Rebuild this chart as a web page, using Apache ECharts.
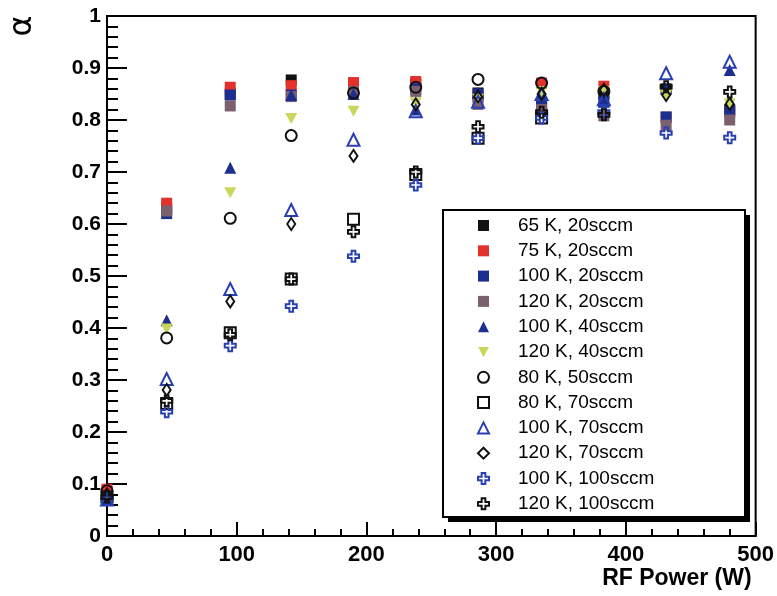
<!DOCTYPE html>
<html>
<head>
<meta charset="utf-8">
<script src="https://cdn.jsdelivr.net/npm/echarts@6/dist/echarts.min.js"></script>
<style>
html,body{margin:0;padding:0;background:#fff;}
#chart{width:777px;height:596px;}
</style>
</head>
<body>
<div id="chart"></div>
<script>
// ---- data ----
var powers = [0, 46, 95, 142, 190, 238, 286, 335, 383, 431, 480];
var seriesNames = ['65 K, 20sccm','75 K, 20sccm','100 K, 20sccm','120 K, 20sccm','100 K, 40sccm','120 K, 40sccm','80 K, 50sccm','80 K, 70sccm','100 K, 70sccm','120 K, 70sccm','100 K, 100sccm','120 K, 100sccm'];
var k65_20  = [0.085, 0.63, 0.850, 0.877, 0.865, 0.870, 0.852, 0.830, 0.850, 0.860, 0.820];
var k75_20  = [0.090, 0.640, 0.863, 0.866, 0.872, 0.874, 0.845, 0.871, 0.865, 0.805, 0.815];
var k100_20 = [0.070, 0.620, 0.848, 0.848, 0.853, 0.860, 0.850, 0.830, 0.835, 0.806, 0.818];
var k120_20 = [0.075, 0.625, 0.827, 0.845, 0.855, 0.855, 0.830, 0.820, 0.808, 0.790, 0.800];
var k100_40 = [0.080, 0.415, 0.708, 0.848, 0.850, 0.820, 0.852, 0.848, 0.835, 0.860, 0.896];
var k120_40 = [0.075, 0.398, 0.660, 0.803, 0.817, 0.833, 0.840, 0.855, 0.855, 0.848, 0.831];
var k80_50  = [0.087, 0.381, 0.611, 0.770, 0.852, 0.863, 0.878, 0.871, 0.855, null, null];
var k80_70  = [0.075, 0.255, 0.391, 0.494, 0.609, 0.695, 0.765, 0.804, null, null, null];
var k100_70 = [0.070, 0.302, 0.475, 0.627, 0.762, 0.817, 0.835, 0.850, 0.840, 0.890, 0.912];
var k120_70 = [0.080, 0.281, 0.451, 0.600, 0.731, 0.830, 0.845, 0.850, 0.858, 0.848, 0.831];
var k100_100= [0.070, 0.239, 0.366, 0.442, 0.538, 0.675, 0.765, 0.804, 0.815, 0.775, 0.766];
var k120_100= [0.075, 0.260, 0.387, 0.494, 0.585, 0.700, 0.787, 0.815, 0.810, 0.864, 0.854];
var yTicks = [0, 0.1, 0.2, 0.3, 0.4, 0.5, 0.6, 0.7, 0.8, 0.9, 1];
var xTicks = [0, 100, 200, 300, 400, 500];

var allValues = [k65_20,k75_20,k100_20,k120_20,k100_40,k120_40,k80_50,k80_70,k100_70,k120_70,k100_100,k120_100];

var plusPath = 'path://M4,0 H8 V4 H12 V8 H8 V12 H4 V8 H0 V4 H4 Z';
var downTri = 'path://M0,0 L12,0 L6,11 Z';
var styles = [
  {symbol:'rect', size:11, item:{color:'#111111'}},
  {symbol:'rect', size:11, item:{color:'#e3312b'}},
  {symbol:'rect', size:11, item:{color:'#1d2f8e'}},
  {symbol:'rect', size:11, item:{color:'#7b6070'}},
  {symbol:'triangle', size:12, item:{color:'#1d2f8e'}},
  {symbol:downTri, size:[12,11], item:{color:'#c8d65c'}},
  {symbol:'circle', size:11, item:{color:'rgba(0,0,0,0)', borderColor:'#111', borderWidth:2}},
  {symbol:'rect', size:11, item:{color:'rgba(0,0,0,0)', borderColor:'#111', borderWidth:2}},
  {symbol:'triangle', size:12, item:{color:'rgba(0,0,0,0)', borderColor:'#2840b0', borderWidth:2}},
  {symbol:'diamond', size:[8,12], item:{color:'rgba(0,0,0,0)', borderColor:'#111', borderWidth:2}},
  {symbol:plusPath, size:11, item:{color:'rgba(0,0,0,0)', borderColor:'#2840b0', borderWidth:2}},
  {symbol:plusPath, size:11, item:{color:'rgba(0,0,0,0)', borderColor:'#111', borderWidth:2}}
];

var series = seriesNames.map(function(name, i){
  var d = [];
  powers.forEach(function(p, j){ if (allValues[i][j] != null) d.push([p, allValues[i][j]]); });
  var it = Object.assign({opacity:1}, styles[i].item);
  return {
    name: name, type: 'scatter', data: d,
    symbol: styles[i].symbol, symbolSize: styles[i].size,
    itemStyle: it,
    emphasis: {disabled: true},
    z: 2 + i * 0.01
  };
});

var chart = echarts.init(document.getElementById('chart'), null, {renderer:'canvas'});
var FONT = 'Liberation Sans';
chart.setOption({
  animation: false,
  backgroundColor: '#ffffff',
  grid: {left:107, right:20, top:16, bottom:60, show:true, borderColor:'#000', borderWidth:2, backgroundColor:'transparent'},
  xAxis: {
    type:'value', min:xTicks[0], max:xTicks[xTicks.length-1], interval:100,
    axisLine:{lineStyle:{color:'#000', width:2}},
    axisTick:{inside:true, length:14, lineStyle:{color:'#000', width:2}},
    minorTick:{show:true, splitNumber:5, length:7, lineStyle:{color:'#000', width:2}},
    splitLine:{show:false},
    axisLabel:{margin:8, color:'#000', fontFamily:FONT, fontWeight:'bold', fontSize:22},
    name:'RF Power (W)', nameLocation:'end', nameGap:-4,
    nameTextStyle:{align:'right', verticalAlign:'top', padding:[31,0,0,0], color:'#000', fontFamily:FONT, fontWeight:'bold', fontSize:23}
  },
  yAxis: {
    type:'value', min:yTicks[0], max:yTicks[yTicks.length-1], interval:0.1,
    axisLine:{lineStyle:{color:'#000', width:2}},
    axisTick:{inside:true, length:20, lineStyle:{color:'#000', width:2}},
    minorTick:{show:true, splitNumber:5, length:11, lineStyle:{color:'#000', width:2}},
    splitLine:{show:false},
    axisLabel:{margin:6, color:'#000', fontFamily:FONT, fontWeight:'bold', fontSize:21}
  },
  legend: {
    orient:'vertical', left:477, top:216, z:10,
    itemWidth:11, itemHeight:11, itemGap:6.3,
    padding:0,
    data: seriesNames,
    textStyle:{fontFamily:FONT, fontSize:19, color:'#000', padding:[0,0,0,24]},
    selectedMode:false
  },
  graphic: [
    {type:'rect', z:5, shape:{x:448, y:215, width:302, height:307}, style:{fill:'#000'}},
    {type:'rect', z:6, shape:{x:443, y:210, width:302, height:307}, style:{fill:'#fff', stroke:'#000', lineWidth:2}},
    {type:'text', z:6, x:23, y:26, rotation:Math.PI/2, style:{text:'α', fill:'#000', font:'32px "DejaVu Sans"', align:'center', verticalAlign:'middle'}}
  ],
  series: series
});
</script>
</body>
</html>
